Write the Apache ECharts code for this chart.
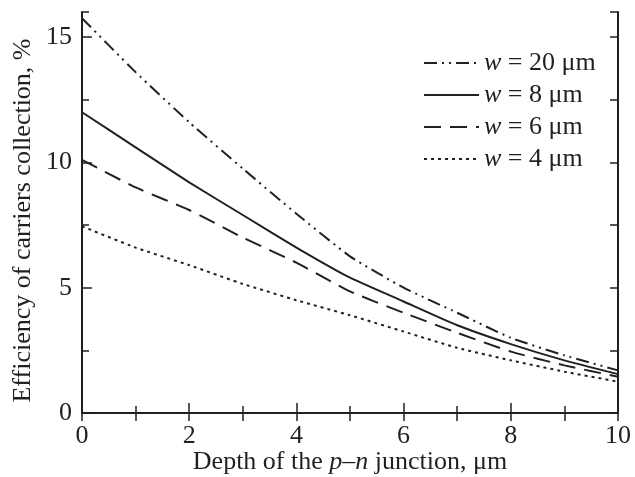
<!DOCTYPE html>
<html>
<head>
<meta charset="utf-8">
<script src="https://cdn.jsdelivr.net/npm/echarts@6/dist/echarts.min.js"></script>
<style>
  html, body { margin: 0; padding: 0; background: #fff; }
  #main { width: 635px; height: 477px; }
</style>
</head>
<body>
<div id="main"></div>
<script>
// depth of the p-n junction, um
var depth = [0, 1, 2, 3, 4, 5, 6, 7, 8, 9, 10];

// efficiency of carriers collection, %
var w20 = [15.75, 13.6, 11.6, 9.75, 7.95, 6.25, 5.0, 4.0, 3.0, 2.3, 1.7];
var w8 = [12.0, 10.6, 9.2, 7.9, 6.6, 5.4, 4.45, 3.5, 2.75, 2.1, 1.55];
var w6 = [10.1, 9.0, 8.1, 7.0, 6.0, 4.85, 4.0, 3.2, 2.45, 1.9, 1.45];
var w4 = [7.45, 6.6, 5.9, 5.15, 4.5, 3.9, 3.25, 2.6, 2.1, 1.65, 1.25];

var seriesNames = ["20", "8", "6", "4"];

let initChart = () => {
  var ink = "#231f20";
  var serif = "'Liberation Serif', 'Times New Roman', serif";
  var fs = 26;

  let pairs = (vals) => depth.map((d, i) => [d, vals[i]]);

  let makeSeries = (name, vals, dash) => ({
    name: name,
    type: "line",
    symbol: "none",
    smooth: 0.15,
    data: pairs(vals),
    lineStyle: { color: ink, width: 2, type: dash },
    itemStyle: { color: ink },
  });

  let option = {
    animation: false,
    backgroundColor: "#fff",
    textStyle: { fontFamily: serif, color: ink },
    grid: { left: 82, right: 17, top: 12, bottom: 64, outerBoundsMode: "none", containLabel: false },
    legend: {
      orient: "vertical",
      left: 418,
      top: 45,
      itemWidth: 55,
      itemHeight: 14,
      itemGap: 6,
      data: seriesNames,
      itemStyle: { color: "rgba(0,0,0,0)", borderWidth: 0, opacity: 0 },
      formatter: (n) => "{i|w} = " + n + " μm",
      textStyle: {
        fontFamily: serif,
        fontSize: fs,
        color: ink,
        rich: {
          i: { fontStyle: "italic", fontFamily: serif, fontSize: fs, color: ink },
        },
      },
    },
    xAxis: [
      {
        type: "value",
        min: 0,
        max: 10,
        interval: 2,
        position: "bottom",
        name: "Depth of the {i|p}–{i|n} junction, μm",
        nameLocation: "middle",
        nameGap: 36,
        nameMoveOverlap: false,
        nameTextStyle: {
          fontFamily: serif,
          fontSize: fs,
          color: ink,
          rich: { i: { fontStyle: "italic", fontFamily: serif, fontSize: fs, color: ink } },
        },
        axisLine: { lineStyle: { color: ink, width: 2 } },
        axisTick: { inside: true, length: 10, lineStyle: { color: ink, width: 1.5 } },
        minorTick: { show: true, splitNumber: 2, length: 7, lineStyle: { color: ink, width: 1.5 } },
        axisLabel: { fontFamily: serif, fontSize: fs, color: ink, margin: 10 },
        splitLine: { show: false },
      },
      {
        type: "value",
        min: 0,
        max: 10,
        interval: 1,
        position: "top",
        axisLine: { show: true, lineStyle: { color: ink, width: 2 } },
        axisTick: { inside: true, length: 8, lineStyle: { color: ink, width: 1.5 } },
        axisLabel: { show: false },
        splitLine: { show: false },
      },
    ],
    yAxis: [
      {
        type: "value",
        min: 0,
        max: 16,
        interval: 5,
        position: "left",
        name: "Efficiency of carriers collection, %",
        nameLocation: "middle",
        nameGap: 46,
        nameMoveOverlap: false,
        nameTextStyle: { fontFamily: serif, fontSize: fs, color: ink, padding: [0, 16, 0, 0] },
        axisLine: { show: true, lineStyle: { color: ink, width: 2 } },
        axisTick: { inside: true, length: 10, lineStyle: { color: ink, width: 1.5 } },
        axisLabel: { fontFamily: serif, fontSize: fs, color: ink, margin: 10, showMaxLabel: false },
        splitLine: { show: false },
      },
      {
        type: "value",
        min: 0,
        max: 16,
        interval: 2.5,
        position: "left",
        axisLine: { show: false },
        axisTick: { inside: true, length: 7, lineStyle: { color: ink, width: 1.5 } },
        axisLabel: { show: false },
        splitLine: { show: false },
      },
      {
        type: "value",
        min: 0,
        max: 16,
        interval: 2.5,
        position: "right",
        axisLine: { show: true, lineStyle: { color: ink, width: 2 } },
        axisTick: { inside: true, length: 8, lineStyle: { color: ink, width: 1.5 } },
        axisLabel: { show: false },
        splitLine: { show: false },
      },
    ],
    series: [
      makeSeries("20", w20, [13, 5, 2, 5, 2, 5]),
      makeSeries("8", w8, "solid"),
      makeSeries("6", w6, [17, 9]),
      makeSeries("4", w4, [3, 4]),
    ],
  };

  var myChart = echarts.init(document.getElementById("main"));
  myChart.setOption(option);
};

initChart();
</script>
</body>
</html>
